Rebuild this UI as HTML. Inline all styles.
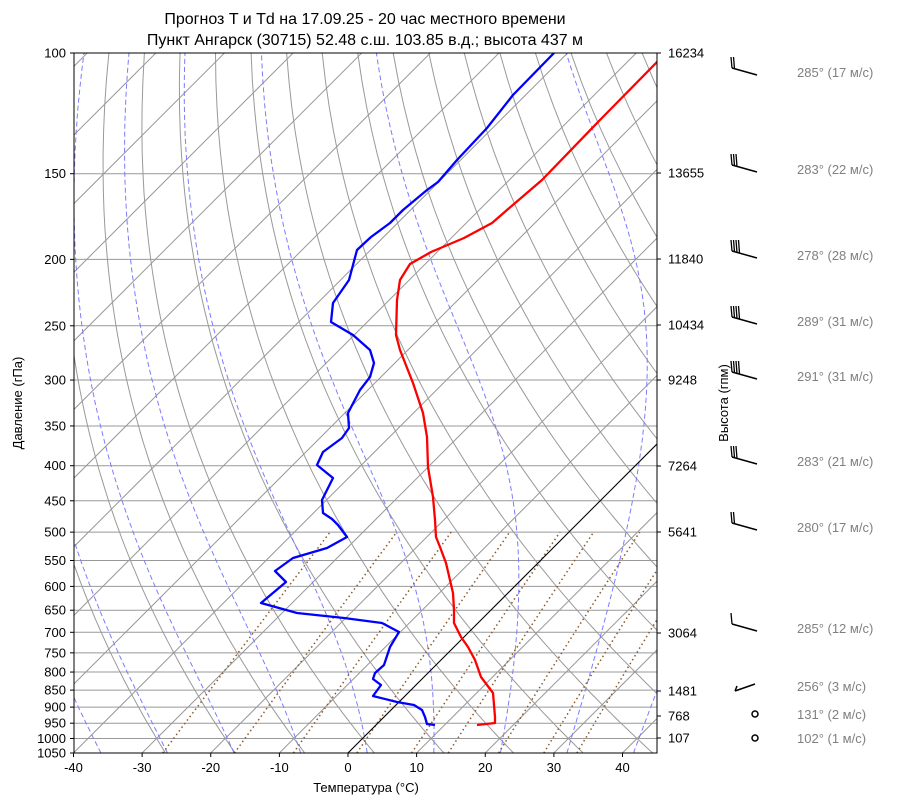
<!DOCTYPE html>
<html><head><meta charset="utf-8"><style>
body{margin:0;background:#fff;}
svg{display:block;font-family:"Liberation Sans","DejaVu Sans",sans-serif;}
</style></head><body>
<svg id="s" width="900" height="806" viewBox="0 0 900 806" xmlns="http://www.w3.org/2000/svg">
<defs><clipPath id="c"><rect x="74" y="53" width="583" height="700"/></clipPath></defs>
<rect width="900" height="806" fill="#fff"/>
<g id="grid" clip-path="url(#c)"></g>
<g clip-path="url(#c)">
<line x1="348" y1="753" x2="1058" y2="43" stroke="#000" stroke-width="1"/>
<polyline fill="none" stroke="#f00" stroke-width="2.3" stroke-linejoin="round" points="477,725 495,723 495,717 493,693 487,685 481,677 475,660 468,647 461,637 454,623 454,610 453,593 446,563 440,547 436,537 435,520 433,497 428,467 427,437 423,413 413,383 400,350 396,335 397,300 400,280 410,264 431,252 464,238 492,223 507,210 542,180 598,122 656,63 660,59"/>
<polyline fill="none" stroke="#00f" stroke-width="2.3" stroke-linejoin="round" points="435,725 427,724 425,717 422,710 414,705 397,702 373,696 381,685 373,679 375,673 384,665 390,647 399,632 382,623 344,618 297,613 261,603 286,582 275,571 293,558 327,548 347,537 338,525 332,519 323,513 322,500 333,478 317,465 323,452 342,438 349,428 348,413 360,390 370,377 374,363 370,350 353,335 331,322 333,303 349,280 357,250 371,237 390,223 403,210 427,190 438,182 457,160 487,128 513,95 554,53"/>
</g>
<rect x="74" y="53" width="583" height="700" fill="none" stroke="#000" stroke-width="1"/>
<g id="ax" font-size="13" fill="#000"></g>
<text x="365" y="24" font-size="16" text-anchor="middle">Прогноз T и Td на 17.09.25 - 20 час местного времени</text>
<text x="365" y="45" font-size="16" text-anchor="middle">Пункт Ангарск (30715) 52.48 с.ш. 103.85 в.д.; высота 437 м</text>
<text x="366" y="792" font-size="13" text-anchor="middle">Температура (°C)</text>
<text transform="translate(22,403) rotate(-90)" font-size="13" text-anchor="middle">Давление (гПа)</text>
<text transform="translate(728,403) rotate(-90)" font-size="13" text-anchor="middle">Высота (гпм)</text>
<g id="wind"></g>
</svg>
<script>
var NS="http://www.w3.org/2000/svg";
function el(p,t,a,txt){var e=document.createElementNS(NS,t);for(var k in a)e.setAttribute(k,a[k]);if(txt!=null)e.textContent=txt;p.appendChild(e);return e;}
function Y(p){return 53+297.7*Math.log(p/100);}
function X(T,p){return 348+6.8625*T+(753-Y(p));}
var g=document.getElementById('grid'),ax=document.getElementById('ax'),w=document.getElementById('wind');
var P=[100,150,200,250,300,350,400,450,500,550,600,650,700,750,800,850,900,950,1000,1050];
P.forEach(function(p){var y=Y(p);el(g,'line',{x1:74,x2:657,y1:y,y2:y,stroke:'#999','stroke-width':1});
 el(ax,'line',{x1:70,x2:74,y1:y,y2:y,stroke:'#000'});el(ax,'text',{x:66,y:y+4.5,'text-anchor':'end'},p);});
for(var T=-150;T<=50;T+=10){el(g,'line',{x1:X(T,1050),y1:753,x2:X(T,1050)+800,y2:-47,stroke:'#999','stroke-width':1});}
for(var T=-40;T<=40;T+=10){var x=348+6.8625*T;el(ax,'line',{x1:x,x2:x,y1:753,y2:757,stroke:'#000'});el(ax,'text',{x:x,y:772,'text-anchor':'middle'},T);}
for(var th=-30;th<=200;th+=10){var pts=[];for(var p=1050;p>=99;p-=10){var t=(th+273.15)*Math.pow(p/1000,0.2857)-273.15;pts.push(X(t,p).toFixed(1)+','+Y(p).toFixed(1));}
 el(g,'polyline',{points:pts.join(' '),fill:'none',stroke:'#999','stroke-width':1});}
function es(t){return 6.112*Math.exp(17.67*t/(t+243.5));}
var Rd=287.04,cp=1005.7,Lv=2.501e6,eps=0.622;
for(var t0=-55.4;t0<=45;t0+=9.7){var t=t0,pts=[];for(var p=1050;p>=100;p-=2){pts.push(X(t,p).toFixed(1)+','+Y(p).toFixed(1));
 var TK=t+273.15,e=es(t),rs=eps*e/(p-e);var d=(Rd*TK+Lv*rs)/(cp+Lv*Lv*rs*eps/(Rd*TK*TK))/p;t-=d*2;}
 el(g,'polyline',{points:pts.join(' '),fill:'none',stroke:'#7b7bff','stroke-width':1,'stroke-dasharray':'5,3'});}
[0.0004,0.001,0.002,0.004,0.007,0.01,0.016,0.024,0.032].forEach(function(r){var pts=[];for(var p=1050;p>=500;p-=10){var e=r*p/(eps+r),l=Math.log(e/6.112),td=243.5*l/(17.67-l);pts.push(X(td,p).toFixed(1)+','+Y(p).toFixed(1));}
 el(g,'polyline',{points:pts.join(' '),fill:'none',stroke:'#8b5a2b','stroke-width':1.5,'stroke-dasharray':'1.5,3'});});
[[16234,53],[13655,173],[11840,259],[10434,325],[9248,380],[7264,466],[5641,532],[3064,633],[1481,691],[768,716],[107,738]].forEach(function(h){
 el(ax,'line',{x1:657,x2:661,y1:h[1],y2:h[1],stroke:'#000'});el(ax,'text',{x:668,y:h[1]+4.5},h[0]);});
var W=[[72,'285° (17 м/с)',2],[169,'283° (22 м/с)',3],[255,'278° (28 м/с)',4],[321,'289° (31 м/с)',4],[376,'291° (31 м/с)',4],[461,'283° (21 м/с)',3],[527,'280° (17 м/с)',2],[628,'285° (12 м/с)',1],[686,'256° (3 м/с)',-1],[714,'131° (2 м/с)',0],[738,'102° (1 м/с)',0]];
W.forEach(function(a){var y=a[0],n=a[2];
 el(w,'text',{x:797,y:y+5,'font-size':13,fill:'#808080'},a[1]);
 if(n==0){el(w,'circle',{cx:755,cy:y,r:3,fill:'none',stroke:'#000','stroke-width':1.5});return;}
 if(n<0){el(w,'line',{x1:735,y1:y+5,x2:755,y2:y-2,stroke:'#000','stroke-width':1.5});el(w,'line',{x1:735,y1:y+5,x2:737,y2:y,stroke:'#000','stroke-width':1.5});return;}
 el(w,'line',{x1:732,y1:y-4,x2:757,y2:y+3,stroke:'#000','stroke-width':1.5});
 for(var i=0;i<n;i++){var x=732+i*2.5;el(w,'line',{x1:x,y1:y-4+i*0.7,x2:x-1,y2:y-15,stroke:'#000','stroke-width':1.3});}
});
</script>
</body></html>
